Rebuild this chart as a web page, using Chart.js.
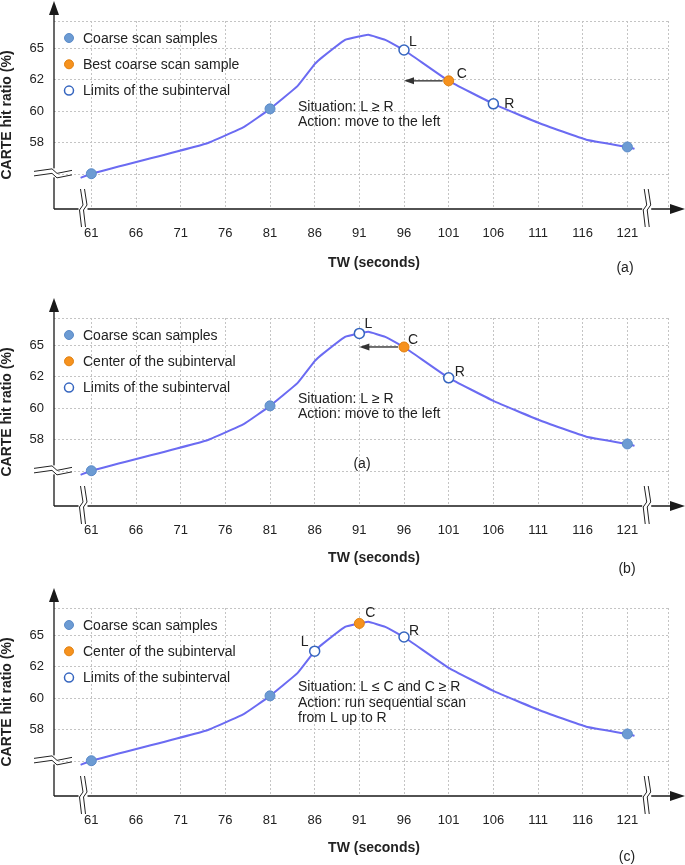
<!DOCTYPE html>
<html>
<head>
<meta charset="utf-8">
<script src="https://cdn.jsdelivr.net/npm/chart.js@4.4.1/dist/chart.umd.min.js"></script>
<style>
  html, body { margin: 0; padding: 0; background: #fff; }
  canvas { display: block; }
</style>
</head>
<body>
<canvas id="chartA" width="685" height="297"></canvas>
<canvas id="chartB" width="685" height="290"></canvas>
<canvas id="chartC" width="685" height="278"></canvas>
<script>
// curve; y is given in grid steps (the axis labels are not evenly spaced in %)
const twSeconds = [59.8, 61, 73.8, 78.1, 81, 84.1, 86, 86.9, 89.4, 91, 92, 93.9, 96, 101, 106, 111.1, 116.4, 121, 121.8];
const hitLevel = [-0.11, 0.02, 0.97, 1.51, 2.08, 2.81, 3.5, 3.73, 4.27, 4.38, 4.43, 4.27, 3.95, 2.97, 2.24, 1.63, 1.10, 0.87, 0.81];

const xTickValues = [61, 66, 71, 76, 81, 86, 91, 96, 101, 106, 111, 116, 121];
const yTickLevels = [1, 2, 3, 4];
const yTickLabels = ["58", "60", "62", "65"];

const coarseSamples = [61, 81, 121];
const panelAHighlight = [101];
const panelALimits = [96, 106];
const panelBHighlight = [96];
const panelBLimits = [91, 101];
const panelCHighlight = [91];
const panelCLimits = [86, 96];

const X_MIN = 56.82;
const X_MAX = 125.55;
const Y_MIN = -1.1;
const Y_TOP = 4.87;

const FONT = "'Liberation Sans', Arial, sans-serif";
const TEXT = "#222";
const BLUE = "#6c9bd3";
const ORANGE = "#f6921e";
const OPEN_EDGE = "#3565bf";
const LINE = "#6b6bf2";

function levelAt(t) {
  return hitLevel[twSeconds.indexOf(t)];
}

function toPoints(list) {
  return list.map(function (t) {
    return { x: t, y: levelAt(t) };
  });
}

function drawBreakX(ctx, bx, by) {
  ctx.fillStyle = "#fff";
  ctx.fillRect(bx - 3, by - 3, 9, 6);
  ctx.beginPath();
  [0, 4].forEach(function (d) {
    ctx.moveTo(bx - 1 + d, by - 20);
    ctx.lineTo(bx + 1.5 + d, by - 4);
    ctx.lineTo(bx - 2 + d, by + 1);
    ctx.lineTo(bx + d, by + 18);
  });
  ctx.stroke();
}

function drawBreakY(ctx, bx, by) {
  ctx.fillStyle = "#fff";
  ctx.fillRect(bx - 3, by - 6, 6, 9);
  ctx.beginPath();
  [0, 4.5].forEach(function (d) {
    ctx.moveTo(bx - 20, by - 3 + d);
    ctx.lineTo(bx - 2, by - 5.5 + d);
    ctx.lineTo(bx + 3, by - 1 + d);
    ctx.lineTo(bx + 18, by - 4 + d);
  });
  ctx.stroke();
}

const decorPlugin = {
  id: "decor",
  afterDraw(chart, args, opts) {
    const ctx = chart.ctx;
    const area = chart.chartArea;
    const xs = chart.scales.x;
    const ys = chart.scales.y;

    ctx.save();

    // axes with arrow heads
    ctx.strokeStyle = "#1a1a1a";
    ctx.fillStyle = "#1a1a1a";
    ctx.lineWidth = 1.3;
    ctx.beginPath();
    ctx.moveTo(area.left, area.bottom);
    ctx.lineTo(area.left, 12);
    ctx.moveTo(area.left, area.bottom);
    ctx.lineTo(chart.width - 12, area.bottom);
    ctx.stroke();

    ctx.beginPath();
    ctx.moveTo(area.left, 1);
    ctx.lineTo(area.left - 5, 15);
    ctx.lineTo(area.left + 5, 15);
    ctx.closePath();
    ctx.fill();

    ctx.beginPath();
    ctx.moveTo(chart.width, area.bottom);
    ctx.lineTo(chart.width - 15, area.bottom - 5);
    ctx.lineTo(chart.width - 15, area.bottom + 5);
    ctx.closePath();
    ctx.fill();

    // axis breaks
    ctx.lineWidth = 1;
    ctx.strokeStyle = "#222";
    drawBreakY(ctx, area.left, ys.getPixelForValue(0));
    drawBreakX(ctx, xs.getPixelForValue(59.9), area.bottom);
    drawBreakX(ctx, xs.getPixelForValue(123), area.bottom);

    // x axis title, sits a bit right of the plot centre in the original
    ctx.fillStyle = TEXT;
    ctx.font = "bold 14px " + FONT;
    ctx.textAlign = "center";
    ctx.textBaseline = "middle";
    ctx.fillText("TW (seconds)", (area.left + area.right) / 2 + 13, opts.titleY);

    // legend
    ctx.font = "14px " + FONT;
    ctx.textAlign = "left";
    opts.legend.forEach(function (row, i) {
      const y = 38 + i * 26.3;
      ctx.beginPath();
      ctx.arc(69, y, 4.5, 0, Math.PI * 2);
      ctx.fillStyle = row.fill;
      ctx.fill();
      ctx.lineWidth = row.edgeWidth;
      ctx.strokeStyle = row.edge;
      ctx.stroke();
      ctx.fillStyle = TEXT;
      ctx.fillText(row.text, 83, y + 1);
    });

    // arrow from C towards the new centre
    if (opts.arrow) {
      const y = ys.getPixelForValue(levelAt(opts.arrow.from));
      const x1 = xs.getPixelForValue(opts.arrow.from) - 6;
      const x2 = xs.getPixelForValue(opts.arrow.to);
      ctx.strokeStyle = "#444";
      ctx.fillStyle = "#333";
      ctx.lineWidth = 1.5;
      ctx.beginPath();
      ctx.moveTo(x1, y);
      ctx.lineTo(x2 + 8, y);
      ctx.stroke();
      ctx.beginPath();
      ctx.moveTo(x2, y);
      ctx.lineTo(x2 + 10, y - 3.5);
      ctx.lineTo(x2 + 10, y + 3.5);
      ctx.closePath();
      ctx.fill();
    }

    // L / C / R labels
    ctx.fillStyle = TEXT;
    ctx.textAlign = "center";
    opts.pointLabels.forEach(function (p) {
      const px = xs.getPixelForValue(p.t);
      const py = ys.getPixelForValue(levelAt(p.t));
      ctx.fillText(p.text, px + p.dx, py + p.dy);
    });

    // situation / action note
    ctx.textAlign = "left";
    opts.note.lines.forEach(function (line, i) {
      ctx.fillText(line, opts.note.x, opts.note.y[i]);
    });

    ctx.textAlign = "center";
    opts.tags.forEach(function (tag) {
      ctx.fillText(tag.text, tag.x, tag.y);
    });

    ctx.restore();
  }
};

function renderPanel(canvasId, panel) {
  const canvas = document.getElementById(canvasId);
  const height = canvas.height;

  return new Chart(canvas.getContext("2d"), {
    type: "scatter",
    data: {
      datasets: [
        {
          label: "Coarse scan samples",
          data: toPoints(coarseSamples),
          pointRadius: 5,
          pointBackgroundColor: BLUE,
          pointBorderColor: "#5a8ac8",
          pointBorderWidth: 1,
          order: 0
        },
        {
          label: panel.highlightLabel,
          data: toPoints(panel.highlight),
          pointRadius: 5,
          pointBackgroundColor: ORANGE,
          pointBorderColor: "#e0800f",
          pointBorderWidth: 1,
          order: 0
        },
        {
          label: "Limits of the subinterval",
          data: toPoints(panel.limits),
          pointRadius: 5,
          pointBackgroundColor: "#fff",
          pointBorderColor: OPEN_EDGE,
          pointBorderWidth: 1.5,
          order: 0
        },
        {
          label: "CARTE hit ratio",
          data: twSeconds.map(function (t, i) {
            return { x: t, y: hitLevel[i] };
          }),
          showLine: true,
          borderColor: LINE,
          borderWidth: 2,
          pointRadius: 0,
          tension: 0.1,
          order: 1
        }
      ]
    },
    options: {
      responsive: false,
      animation: false,
      layout: {
        padding: { top: 21, right: 13, left: 0, bottom: 0 }
      },
      plugins: {
        legend: { display: false },
        tooltip: { enabled: false },
        decor: Object.assign({ titleY: panel.titleY }, panel.decor)
      },
      scales: {
        x: {
          type: "linear",
          min: X_MIN,
          max: X_MAX,
          afterBuildTicks: function (scale) {
            scale.ticks = xTickValues.concat([X_MAX]).map(function (v) {
              return { value: v };
            });
          },
          afterFit: function (scale) {
            scale.height = height - 209;
          },
          ticks: {
            autoSkip: false,
            maxRotation: 0,
            padding: 17,
            color: TEXT,
            font: { family: FONT, size: 13 },
            callback: function (value) {
              return xTickValues.indexOf(value) >= 0 ? String(value) : "";
            }
          },
          grid: {
            color: "#c4c4c4",
            lineWidth: 1,
            drawTicks: false
          },
          border: { display: false, dash: [2, 2] }
        },
        y: {
          type: "linear",
          min: Y_MIN,
          max: Y_TOP,
          afterBuildTicks: function (scale) {
            scale.ticks = [0].concat(yTickLevels, [Y_TOP]).map(function (v) {
              return { value: v };
            });
          },
          afterFit: function (scale) {
            scale.width = 54;
          },
          ticks: {
            padding: 10,
            color: TEXT,
            font: { family: FONT, size: 13 },
            callback: function (value) {
              const idx = yTickLevels.indexOf(value);
              return idx >= 0 ? yTickLabels[idx] : "";
            }
          },
          grid: {
            color: "#c4c4c4",
            lineWidth: 1,
            drawTicks: false
          },
          border: { display: false, dash: [2, 2] },
          title: {
            display: true,
            text: "CARTE hit ratio (%)",
            color: TEXT,
            font: { family: FONT, size: 14, weight: "bold", lineHeight: 1 },
            padding: { top: 0, bottom: 0 }
          }
        }
      }
    },
    plugins: [decorPlugin]
  });
}

function legendRows(middleText) {
  return [
    { text: "Coarse scan samples", fill: BLUE, edge: "#5a8ac8", edgeWidth: 1 },
    { text: middleText, fill: ORANGE, edge: "#e0800f", edgeWidth: 1 },
    { text: "Limits of the subinterval", fill: "#fff", edge: OPEN_EDGE, edgeWidth: 1.5 }
  ];
}

renderPanel("chartA", {
  highlightLabel: "Best coarse scan sample",
  highlight: panelAHighlight,
  limits: panelALimits,
  titleY: 263,
  decor: {
    legend: legendRows("Best coarse scan sample"),
    arrow: { from: 101, to: 96 },
    pointLabels: [
      { t: 96, text: "L", dx: 9, dy: -8 },
      { t: 101, text: "C", dx: 13, dy: -7 },
      { t: 106, text: "R", dx: 16, dy: 0 }
    ],
    note: { x: 298, y: [107, 122], lines: ["Situation: L ≥ R", "Action: move to the left"] },
    tags: [{ text: "(a)", x: 625, y: 268 }]
  }
});

renderPanel("chartB", {
  highlightLabel: "Center of the subinterval",
  highlight: panelBHighlight,
  limits: panelBLimits,
  titleY: 261,
  decor: {
    legend: legendRows("Center of the subinterval"),
    arrow: { from: 96, to: 91 },
    pointLabels: [
      { t: 91, text: "L", dx: 9, dy: -9 },
      { t: 96, text: "C", dx: 9, dy: -7 },
      { t: 101, text: "R", dx: 11, dy: -6 }
    ],
    note: { x: 298, y: [102, 117], lines: ["Situation: L ≥ R", "Action: move to the left"] },
    tags: [{ text: "(a)", x: 362, y: 167 }, { text: "(b)", x: 627, y: 272 }]
  }
});

renderPanel("chartC", {
  highlightLabel: "Center of the subinterval",
  highlight: panelCHighlight,
  limits: panelCLimits,
  titleY: 261,
  decor: {
    legend: legendRows("Center of the subinterval"),
    arrow: null,
    pointLabels: [
      { t: 86, text: "L", dx: -10, dy: -9 },
      { t: 91, text: "C", dx: 11, dy: -10 },
      { t: 96, text: "R", dx: 10, dy: -6 }
    ],
    note: {
      x: 298,
      y: [100, 116, 131],
      lines: ["Situation: L ≤ C and C ≥ R", "Action: run sequential scan", "from L up to R"]
    },
    tags: [{ text: "(c)", x: 627, y: 270 }]
  }
});
</script>
</body>
</html>
